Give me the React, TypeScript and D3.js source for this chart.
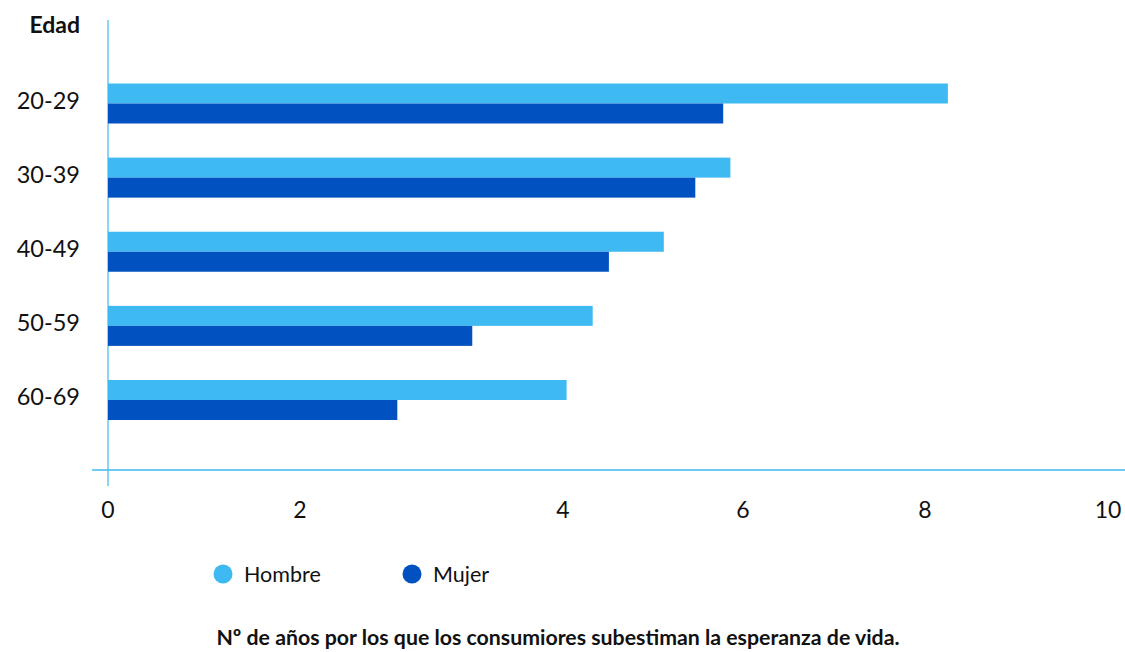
import React from "react";
import * as d3 from "d3";

const categories = ["20-29", "30-39", "40-49", "50-59", "60-69"];
const hombre = [8.25, 5.86, 5.12, 4.33, 4.04];
const mujer = [5.78, 5.47, 4.51, 3.31, 2.74];
const xTicks = [0, 2, 4, 6, 8, 10];
const tickPositions = [108, 300, 563, 743, 925, 1108];
const seriesNames = ["Hombre", "Mujer"];
const colors = ["#3fb9f2", "#0251c0"];
const axisColor = "#3fb9f2";
const font = "Lato, 'Open Sans', sans-serif";

export default function App() {
  const W = 1125;
  const H = 652;
  const x = d3.scaleLinear().domain(xTicks).range(tickPositions);
  const y = d3.scalePoint<string>().domain(categories).range([103.5, 400]);
  const barH = 20;

  return (
    <svg width={W} height={H} style={{ position: "absolute", left: 0, top: 0, background: "#fff" }}>
      <line x1={x(0)} x2={x(0)} y1={20} y2={486} stroke={axisColor} strokeWidth={1.2} />
      <line x1={92} x2={W} y1={470} y2={470} stroke={axisColor} strokeWidth={1.5} />
      <text x={80} y={33} textAnchor="end" fontFamily={font} fontWeight={700} fontSize={23} fill="#111">Edad</text>
      {categories.map((c, i) => (
        <g key={c}>
          <rect x={x(0)} y={(y(c) as number) - barH} width={x(hombre[i]) - x(0)} height={barH} fill={colors[0]} />
          <rect x={x(0)} y={y(c) as number} width={x(mujer[i]) - x(0)} height={barH} fill={colors[1]} />
          <text x={80} y={(y(c) as number) - 3} dy="0.35em" textAnchor="end" fontFamily={font} fontSize={23.5} fill="#111">{c}</text>
        </g>
      ))}
      {xTicks.map((t) => (
        <text key={t} x={x(t)} y={510} dy="0.35em" textAnchor="middle" fontFamily={font} fontSize={23} fill="#111">{t}</text>
      ))}
      {seriesNames.map((s, i) => (
        <g key={s} transform={`translate(${223 + i * 189},574)`}>
          <circle r={9.5} fill={colors[i]} />
          <text x={21} dy="0.35em" fontFamily={font} fontSize={21.5} fill="#111">{s}</text>
        </g>
      ))}
      <text x={558} y={638} dy="0.35em" textAnchor="middle" fontFamily={font} fontWeight={700} fontSize={21.3} fill="#111">
        Nº de años por los que los consumiores subestiman la esperanza de vida.
      </text>
    </svg>
  );
}
